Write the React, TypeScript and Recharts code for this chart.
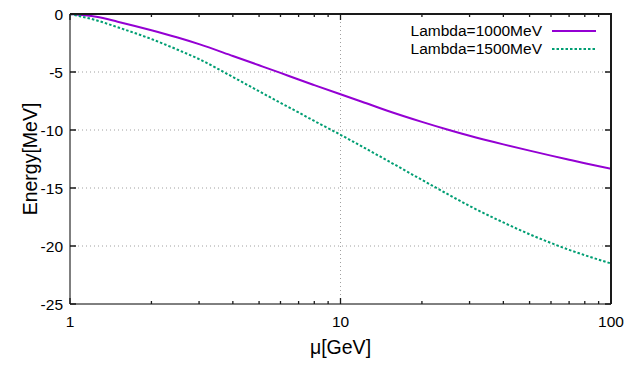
import { LineChart, Line, XAxis, YAxis, CartesianGrid, Legend } from "recharts";

// values (x axis is log scale)
const muValues = [1, 1.25, 1.5, 2, 2.5, 3, 4, 5, 6, 7, 8, 10, 12, 15, 20, 25, 30, 40, 50, 60, 70, 80, 100];
const lambda1000 = [0, -0.24, -0.66, -1.4, -2.03, -2.6, -3.62, -4.42, -5.08, -5.65, -6.13, -6.92, -7.56, -8.36, -9.3, -9.98, -10.5, -11.24, -11.78, -12.21, -12.56, -12.86, -13.34];
const lambda1500 = [0, -0.54, -1.14, -2.16, -3.08, -3.89, -5.43, -6.66, -7.66, -8.49, -9.22, -10.41, -11.42, -12.67, -14.3, -15.55, -16.55, -17.97, -18.99, -19.74, -20.33, -20.79, -21.51];

const majorX = [1, 10, 100];
const minorX = [2, 3, 4, 5, 6, 7, 8, 9, 20, 30, 40, 50, 60, 70, 80, 90];
const xTicks = [...majorX, ...minorX].sort((a, b) => a - b);
const yTicks = [-25, -20, -15, -10, -5, 0];

const data = muValues.map((mu, i) => ({
  mu,
  l1000: lambda1000[i],
  l1500: lambda1500[i],
}));

const W = 640;
const H = 384;
const M = { top: 14, right: 29, left: 0, bottom: 0 };
const Y_AXIS_W = 70;
const X_AXIS_H = 80;
// plot box size, used for the mirrored ticks on top / right (gnuplot style border)
const PLOT_W = W - M.left - M.right - Y_AXIS_W;
const PLOT_H = H - M.top - M.bottom - X_AXIS_H;

const FONT = "'Liberation Sans', Arial, sans-serif";
const PURPLE = "#9400d3";
const GREEN = "#009e73";
const INK = "#1a1a1a";

const BottomTick = (props: any) => {
  const x = Number(props.x);
  const y = Number(props.y);
  const v = props.payload?.value;
  const major = majorX.includes(v);
  const len = major ? 6 : 3;
  const top = y - PLOT_H;
  return (
    <g>
      <path d={`M${x},${y}V${y - len}M${x},${top}V${top + len}`} stroke={INK} strokeWidth={1.3} fill="none" />
      {major && (
        <text x={x} y={y + 23} textAnchor="middle" fontSize={15.5} fontFamily={FONT} fill="#000">
          {v}
        </text>
      )}
    </g>
  );
};

const LeftTick = (props: any) => {
  const x = Number(props.x);
  const y = Number(props.y);
  const right = x + PLOT_W;
  return (
    <g>
      <path d={`M${x},${y}H${x + 6}M${right},${y}H${right - 6}`} stroke={INK} strokeWidth={1.3} fill="none" />
      <text x={x - 7} y={y} dy="0.36em" textAnchor="end" fontSize={15.5} fontFamily={FONT} fill="#000">
        {props.payload?.value}
      </text>
    </g>
  );
};

const KeyBox = ({ payload }: any) => (
  <div style={{ fontFamily: FONT, fontSize: 15.5 }}>
    {(payload || []).map((entry: any) => (
      <div
        key={entry.value}
        style={{ display: "flex", justifyContent: "flex-end", alignItems: "center", height: 18.5 }}
      >
        <span style={{ color: "#000", whiteSpace: "nowrap" }}>{entry.value}</span>
        <svg width={44} height={6} style={{ marginLeft: 10, marginRight: 4 }}>
          <line
            x1={0}
            x2={44}
            y1={3}
            y2={3}
            stroke={entry.color}
            strokeWidth={2}
            strokeDasharray={entry.payload?.strokeDasharray}
          />
        </svg>
      </div>
    ))}
  </div>
);

const EnergyLabel = ({ viewBox }: any) => {
  const cy = viewBox.y + viewBox.height / 2;
  return (
    <text
      x={30}
      y={cy}
      transform={`rotate(-90, 30, ${cy})`}
      textAnchor="middle"
      dy="0.36em"
      fontSize={19.5}
      fontFamily={FONT}
      fill="#000"
    >
      Energy[MeV]
    </text>
  );
};

export default function App() {
  return (
    <div style={{ position: "absolute", left: 0, top: 0, width: W, height: H, background: "#fff" }}>
      <LineChart width={W} height={H} data={data} margin={M}>
        <CartesianGrid
          stroke="#a0a0a0"
          strokeDasharray="1 3"
          horizontalValues={[-20, -15, -10, -5]}
          verticalValues={[10]}
        />
        <XAxis
          dataKey="mu"
          type="number"
          scale="log"
          domain={[1, 100]}
          allowDataOverflow
          ticks={xTicks}
          interval={0}
          height={X_AXIS_H}
          tickSize={0}
          tickMargin={0}
          tick={<BottomTick />}
          axisLine={{ stroke: "#000" }}
          label={{
            value: "μ[GeV]",
            position: "insideTop",
            offset: 36,
            fontSize: 19.5,
            fontFamily: FONT,
            fill: "#000",
          }}
        />
        <YAxis
          type="number"
          domain={[-25, 0]}
          ticks={yTicks}
          interval={0}
          width={Y_AXIS_W}
          tickSize={0}
          tickMargin={0}
          tick={<LeftTick />}
          axisLine={{ stroke: "#000" }}
          label={<EnergyLabel />}
        />
        <Legend
          layout="vertical"
          align="center"
          verticalAlign="middle"
          wrapperStyle={{ top: 21.5, left: 350, width: 250 }}
          content={<KeyBox />}
        />
        <Line
          type="monotone"
          dataKey="l1000"
          name="Lambda=1000MeV"
          stroke={PURPLE}
          strokeWidth={2}
          dot={false}
          activeDot={false}
          isAnimationActive={false}
        />
        <Line
          type="monotone"
          dataKey="l1500"
          name="Lambda=1500MeV"
          stroke={GREEN}
          strokeWidth={2}
          strokeDasharray="2.5 2"
          dot={false}
          activeDot={false}
          isAnimationActive={false}
        />
      </LineChart>
      {/* top and right edges of the plot border */}
      <div
        style={{
          position: "absolute",
          left: M.left + Y_AXIS_W,
          top: M.top - 1,
          width: PLOT_W + 1,
          height: PLOT_H + 1,
          boxSizing: "border-box",
          borderTop: `2px solid ${INK}`,
          borderRight: `2px solid ${INK}`,
          pointerEvents: "none",
        }}
      />
    </div>
  );
}
